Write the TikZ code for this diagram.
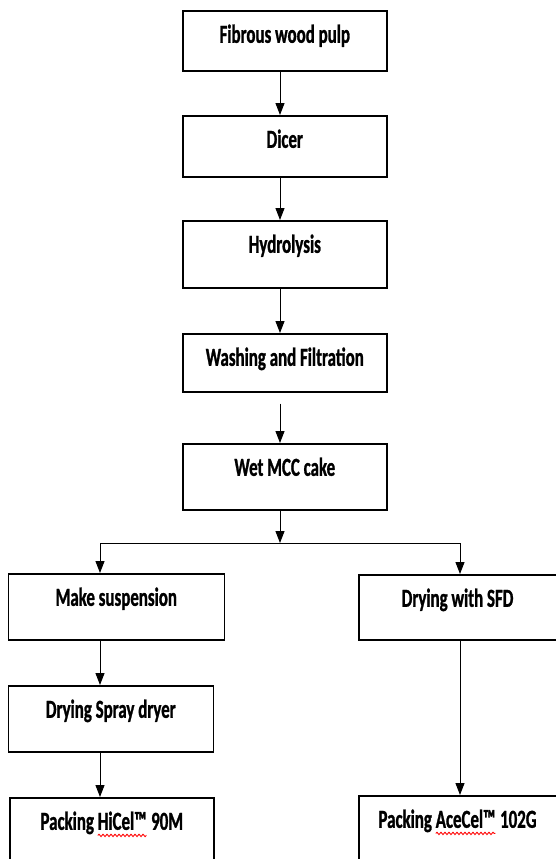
\documentclass[tikz,border=0pt]{standalone}
\usepackage{fontspec}
\setmainfont{Carlito}[FakeStretch=0.65, BoldFeatures={FakeBold=1}]
\usetikzlibrary{arrows.meta,decorations.pathmorphing}
\newcommand\redwave[1]{\setbox0\hbox{#1}\rlap{\tikz[overlay, x=1pt, y=1pt]
  \draw[red, line width=0.45pt, decorate, decoration={snake, amplitude=0.6pt, segment length=2pt}] (0,-2.8) -- (\wd0,-2.8);}\box0}

\begin{document}
\begin{tikzpicture}[x=0.5pt, y=-0.5pt,
  >={Triangle[length=6pt,width=4.5pt]},
  stage/.style={draw, line width=0.8pt, anchor=north west, inner sep=0pt,
    text height=16pt, text depth=#1, font=\fontsize{13}{15}\selectfont\bfseries},
  stage/.default=17pt,
  flow/.style={->, line width=0.5pt}]
\clip (0,0) rectangle (556,859);
\coordinate (spine) at (280,0);
\coordinate (lcol) at (100,0);
\coordinate (rcol) at (460,0);
\coordinate (split) at (280,543);

% main line
\node[stage=14pt, minimum width=102pt] (pulp) at (182,10) {Fibrous wood pulp};
\node[stage=14.5pt, minimum width=102pt] (dicer) at (182,115) {Dicer};
\node[stage=17.5pt, minimum width=102pt] (hydro) at (182,220) {Hydrolysis};
\node[stage=13pt, minimum width=102pt] (wash) at (182,333) {Washing and Filtration};
\node[stage, minimum width=102pt] (wet) at (182,443) {Wet MCC cake};

% two branches
\node[stage, minimum width=108pt] (susp) at (7.5,573) {Make suspension};
\node[stage, minimum width=102.5pt] (spray) at (7.5,685) {Drying Spray dryer};
\node[stage=20pt, minimum width=102pt] (hicel) at (9,797) {Packing \redwave{HiCel™}\hspace{0.5pt} 90M};
\node[stage=16.5pt, minimum width=98.75pt] (sfd) at (358,574) {Drying with SFD};
\node[stage=20pt, minimum width=98.75pt] (acecel) at (358,795) {Packing \redwave{AceCel™}\hspace{0.5pt} 102G};

\draw[flow] (pulp.south -| spine) -- (dicer.north -| spine);
\draw[flow] (dicer.south -| spine) -- (hydro.north -| spine);
\draw[flow] (hydro.south -| spine) -- (wash.north -| spine);
\draw[flow, shorten <=5.5pt] (wash.south -| spine) -- (wet.north -| spine);
\draw[flow] (wet.south -| spine) -- (split);
\draw[flow] (split) -| (susp.north -| lcol);
\draw[flow] (split) -| (sfd.north -| rcol);
\draw[flow] (susp.south -| lcol) -- (spray.north -| lcol);
\draw[flow] (spray.south -| lcol) -- (hicel.north -| lcol);
\draw[flow] (sfd.south -| rcol) -- (acecel.north -| rcol);
\end{tikzpicture}
\end{document}
